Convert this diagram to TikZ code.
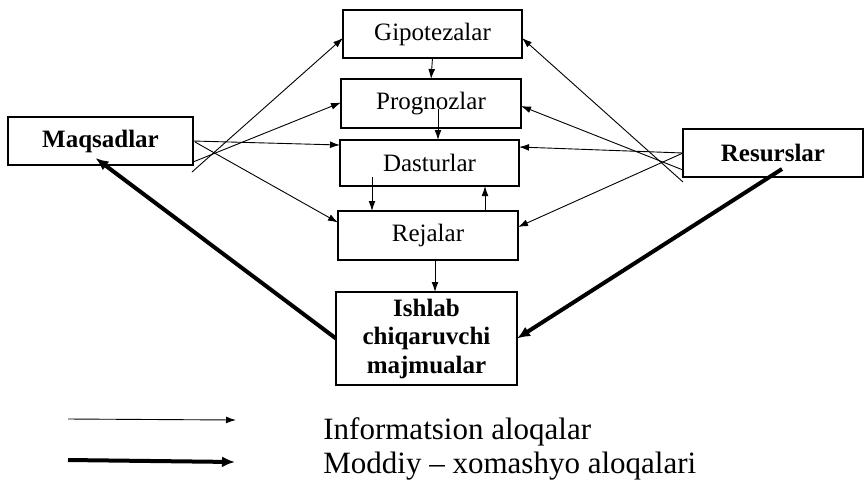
\documentclass[tikz,border=0pt]{standalone}
\usepackage{fontspec}
\setmainfont{Liberation Serif}
\usetikzlibrary{arrows.meta,calc}
\begin{document}
\begin{tikzpicture}[x=0.5pt,y=-0.5pt,
  box/.style={draw=black,line width=0.8pt,rectangle,inner sep=0pt,outer sep=0pt,
    font=\fontsize{12.5}{14.25}\selectfont,align=center},
  boldbox/.style={box,font=\fontsize{12.5}{14.25}\selectfont\bfseries},
  info/.style={line width=0.45pt,-{Latex[length=5pt,width=3.4pt]}},
  mat/.style={line width=2pt,-{Latex[length=6.5pt,width=5.5pt]}},
  legend/.style={font=\fontsize{15.5}{18}\selectfont,anchor=base west,inner sep=0pt}]
\useasboundingbox (0,0) rectangle (865,483);
% boxes
\node[boldbox,minimum width=92.5pt,minimum height=24pt] (maq) at (100.5,141) {Maqsadlar};
\node[box,minimum width=89.5pt,minimum height=24pt] (gip) at (432.5,34) {Gipotezalar};
\node[box,minimum width=90pt,minimum height=24.5pt] (pro) at (431,103.5) {Prognozlar};
\node[box,minimum width=89.5pt,minimum height=23pt] (das) at (429.5,163) {Dasturlar};
\node[box,minimum width=90pt,minimum height=24.5pt] (rej) at (428,235.5) {Rejalar};
\node[boldbox,minimum width=90.5pt,minimum height=46.5pt] (ish) at (426.5,338.5) {Ishlab\\chiqaruvchi\\majmualar};
\node[boldbox,minimum width=90pt,minimum height=24pt] (res) at (773,153) {Resurslar};
% vertical information links
\draw[info] (gip.south) -- (pro.north);
\draw[info] ($(pro.center)+(7,5)$) -- ($(das.north)+(8.5,0)$);
\draw[info] ($(das.south)+(-57.5,-9)$) -- ($(rej.north)+(-56,0)$);
\draw[info] ($(rej.north)+(57,0)$) -- ($(das.south)+(55.5,0)$);
\draw[info] ($(rej.south)+(7,0)$) -- ($(ish.north)+(8.5,0)$);
% from Maqsadlar
\draw[info] ($(maq.south east)+(-1,7)$) -- ($(gip.west)+(0,4)$);
\draw[info] ($(maq.south east)+(0,-3)$) -- ($(pro.west)+(0,-1)$);
\draw[info] (maq.east) -- ($(das.west)+(0,-18)$);
\draw[info] ($(maq.east)+(2,1)$) -- ($(rej.west)+(0,-13)$);
% from Resurslar
\draw[info] ($(res.south west)+(0,5)$) -- ($(gip.east)+(0,4)$);
\draw[info] ($(res.south west)+(0,-7)$) -- ($(pro.east)+(0,2.5)$);
\draw[info] (res.west) -- ($(das.east)+(0,-16)$);
\draw[info] (res.west) -- ($(rej.east)+(0,-8.5)$);
% material links
\draw[mat] (ish.west) -- ($(maq.south)+(-5,-7)$);
\draw[mat] ($(res.center)+(9,16)$) -- (ish.east);
% legend
\coordinate (l1a) at (68,419);
\coordinate (l1b) at (236,420);
\coordinate (l2a) at (68,460);
\coordinate (l2b) at (235,462);
\draw[info] (l1a) -- (l1b);
\draw[mat] (l2a) -- (l2b);
\node[legend] (t1) at (323,439) {Informatsion aloqalar};
\node[legend] (t2) at (323,473) {Moddiy – xomashyo aloqalari};
\end{tikzpicture}
\end{document}
